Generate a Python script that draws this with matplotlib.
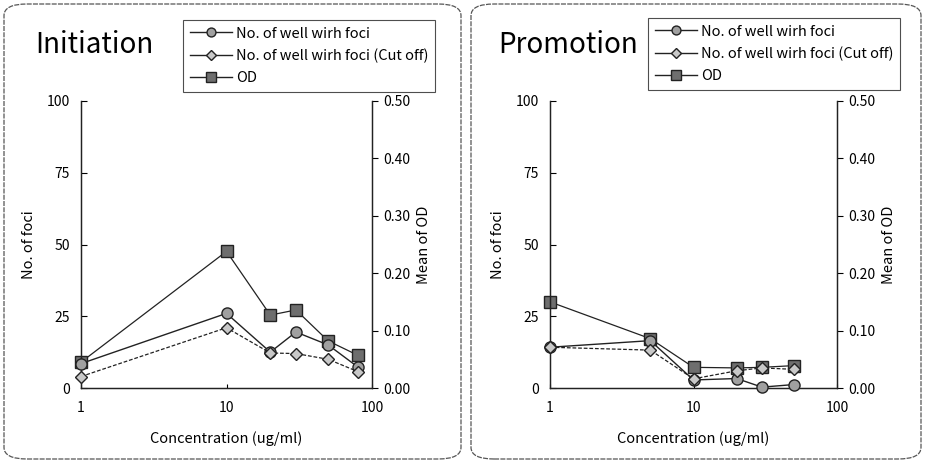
import matplotlib
matplotlib.use('Agg')
import matplotlib.pyplot as plt
from matplotlib.patches import FancyBboxPatch
from matplotlib.lines import Line2D
import numpy as np

plt.rcParams['font.family'] = ['Noto Sans CJK JP', 'DejaVu Sans']

# Initiation
conc_init = [1, 10, 20, 30, 50, 80]
wells_init = [8.5, 26, 12.5, 19.5, 15, 7.3]
cutoff_init = [4, 21, 12.2, 12, 10, 5.7]
od_init = [0.045, 0.238, 0.127, 0.136, 0.082, 0.057]

# Promotion
conc_prom = [1, 5, 10, 20, 30, 50]
wells_prom = [14.2, 16.5, 2.8, 3.3, 0.3, 1.2]
cutoff_prom = [14.2, 13.2, 3.2, 6.0, 7.0, 6.5]
od_prom = [0.150, 0.086, 0.036, 0.035, 0.036, 0.039]

titles = ['Initiation', 'Promotion']
legend_labels = ['No. of well wirh foci', 'No. of well wirh foci (Cut off)', 'OD']

W, H = 925, 463
fig = plt.figure(figsize=(W / 100, H / 100), dpi=100)

def fx(px):
    return px / W

def fy(py):
    return 1 - py / H

# rounded frames around each panel
for x0, x1 in [(4, 461), (471, 921)]:
    box = FancyBboxPatch((fx(x0), fy(459)), fx(x1 - x0), (459 - 4) / H,
                         boxstyle='round,pad=0,rounding_size=0.025',
                         transform=fig.transFigure, fill=False,
                         edgecolor='#555555', linewidth=0.9, linestyle=(0, (4, 1)))
    fig.add_artist(box)

circ = dict(marker='o', markersize=8, markerfacecolor='#a0a0a0', markeredgecolor='#222222')
diam = dict(marker='D', markersize=6, markerfacecolor='#c8c8c8', markeredgecolor='#222222')
sq = dict(marker='s', markersize=9, markerfacecolor='#6e6e6e', markeredgecolor='#222222')

panels = [
    (81, 372, conc_init, wells_init, cutoff_init, od_init, 35, 183, 20),
    (550, 837, conc_prom, wells_prom, cutoff_prom, od_prom, 498, 648, 18),
]

for i, (l, r, conc, wells, cut, od, tx, lx, ly) in enumerate(panels):
    ax = fig.add_axes([fx(l), fy(388), fx(r - l), (388 - 101) / H])
    ax2 = ax.twinx()
    ax.set_zorder(ax2.get_zorder() + 1)
    ax.patch.set_visible(False)

    ax2.plot(conc, od, color='#222222', linewidth=0.9, zorder=2, clip_on=False, **sq)
    ax.plot(conc, wells, color='#222222', linewidth=1.0, zorder=3, clip_on=False, **circ)
    ax.plot(conc, cut, color='#222222', linewidth=0.9, linestyle=(0, (3, 1.5)), zorder=3,
            clip_on=False, **diam)

    for a in (ax, ax2):
        a.set_xscale('log')
        a.set_xlim(1, 100)
        a.spines['top'].set_visible(False)
        for s in ('left', 'right', 'bottom'):
            a.spines[s].set_linewidth(0.9)
            a.spines[s].set_color('#222222')
    ax.set_ylim(0, 100)
    ax.set_yticks([0, 25, 50, 75, 100])
    ax2.set_ylim(0, 0.5)
    ax2.set_yticks([0, 0.1, 0.2, 0.3, 0.4, 0.5])
    ax2.set_yticklabels(['0.00', '0.10', '0.20', '0.30', '0.40', '0.50'])
    ax.set_xticks([1, 10, 100])
    ax.set_xticklabels(['1', '10', '100'])
    ax.xaxis.set_minor_locator(matplotlib.ticker.NullLocator())
    ax.tick_params(axis='both', direction='in', labelsize=10, length=4, width=0.8, pad=8)
    ax.tick_params(axis='x', length=3, pad=9)
    ax2.tick_params(axis='y', direction='out', labelsize=10, length=4, width=0.8, pad=4)

    ax.set_xlabel('Concentration (ug/ml)', fontsize=10.5, labelpad=12)
    ax.set_ylabel('No. of foci', fontsize=10.5, labelpad=8)
    ax2.set_ylabel('Mean of OD', fontsize=10.5, labelpad=5)

    fig.text(fx(tx), fy(45), titles[i], fontsize=20, va='center', ha='left')

    handles = [
        Line2D([], [], color='#222222', linewidth=1.0, **circ),
        Line2D([], [], color='#222222', linewidth=1.0, **diam),
        Line2D([], [], color='#222222', linewidth=1.0, **sq),
    ]
    for h in handles:
        h.set_markersize(h.get_markersize() * 0.8)
    leg = fig.legend(handles, legend_labels, loc='upper left',
                     bbox_to_anchor=(fx(lx), fy(ly)), fontsize=10.5,
                     frameon=True, fancybox=False, handlelength=2.9,
                     handletextpad=0.3, labelspacing=0.55, borderpad=0.45,
                     borderaxespad=0)
    leg.get_frame().set_edgecolor('#222222')
    leg.get_frame().set_linewidth(0.8)

fig.savefig('out.png', dpi=100)
